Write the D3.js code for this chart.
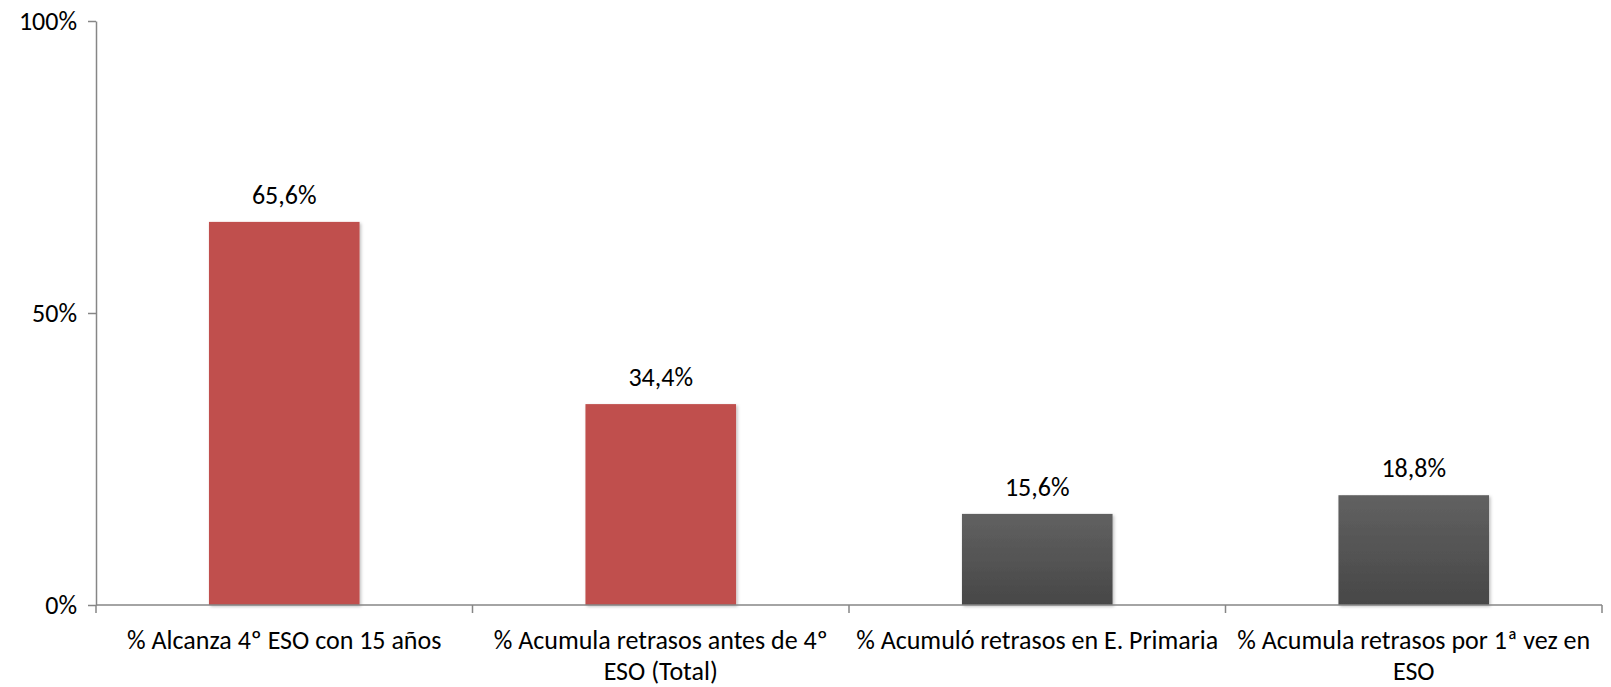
<!DOCTYPE html>
<html>
<head>
<meta charset="utf-8">
<script src="https://cdn.jsdelivr.net/npm/d3@7"></script>
<style>
  html, body { margin: 0; padding: 0; background: #fff; }
  svg { display: block; font-family: Carlito, Calibri, Lato, sans-serif; }
  svg text { font-family: Carlito, Calibri, Lato, sans-serif; font-size: 26px; fill: #000; }
</style>
</head>
<body>
<div id="chart"></div>
<script>
// Distribution of students by grade retention
const categories = [
  '% Alcanza 4º ESO con 15 años',
  '% Acumula retrasos antes de 4º ESO (Total)',
  '% Acumuló retrasos en E. Primaria',
  '% Acumula retrasos por 1ª vez en ESO'
];
const values = [65.6, 34.4, 15.6, 18.8];
const groups = ['red', 'red', 'gray', 'gray'];
const yTicks = [0, 50, 100];

const W = 1611, H = 687;
const margin = { top: 21, right: 9, bottom: 82, left: 96 };

const svg = d3.select('#chart').append('svg')
  .attr('width', W)
  .attr('height', H);

const defs = svg.append('defs');
const grad = defs.append('linearGradient')
  .attr('id', 'grayGrad')
  .attr('x1', 0).attr('y1', 0).attr('x2', 0).attr('y2', 1);
grad.append('stop').attr('offset', '0%').attr('stop-color', '#616161');
grad.append('stop').attr('offset', '100%').attr('stop-color', '#474747');

const shadow = defs.append('filter').attr('id', 'shadow')
  .attr('x', '-10%').attr('y', '-10%').attr('width', '130%').attr('height', '130%');
shadow.append('feDropShadow')
  .attr('dx', 1.5).attr('dy', 1.5).attr('stdDeviation', 1.5)
  .attr('flood-color', '#000').attr('flood-opacity', 0.25);

const x = d3.scaleBand()
  .domain(categories)
  .range([margin.left, W - margin.right])
  .paddingInner(0.6)
  .paddingOuter(0.3);

const y = d3.scaleLinear()
  .domain([0, 100])
  .range([H - margin.bottom, margin.top]);

// bars
svg.append('g').selectAll('rect')
  .data(categories).join('rect')
  .attr('x', d => x(d))
  .attr('y', (d, i) => y(values[i]))
  .attr('width', x.bandwidth())
  .attr('height', (d, i) => y(0) - y(values[i]))
  .attr('fill', (d, i) => groups[i] === 'red' ? '#C0504D' : 'url(#grayGrad)')
  .attr('filter', 'url(#shadow)');

// value labels
svg.append('g').selectAll('text')
  .data(categories).join('text')
  .attr('x', d => x(d) + x.bandwidth() / 2)
  .attr('y', (d, i) => y(values[i]) - 18)
  .attr('text-anchor', 'middle')
  .text((d, i) => d3.format('.1f')(values[i]).replace('.', ',') + '%');

// y axis
const yAxis = svg.append('g')
  .attr('transform', `translate(${margin.left},0)`)
  .call(d3.axisLeft(y).tickValues(yTicks).tickSize(8).tickSizeOuter(0).tickFormat(d => d + '%'));
yAxis.select('.domain').attr('stroke', '#868686').attr('stroke-width', 1.5);
yAxis.selectAll('.tick line').attr('stroke', '#868686').attr('stroke-width', 1.5);
yAxis.selectAll('.tick text').attr('x', -19);

// x axis baseline and category separators
const base = y(0);
const xStart = margin.left, xEnd = W - margin.right;
const xg = svg.append('g');
xg.append('line')
  .attr('x1', xStart).attr('x2', xEnd)
  .attr('y1', base).attr('y2', base)
  .attr('stroke', '#868686').attr('stroke-width', 1.5);
const bounds = d3.range(categories.length + 1).map(i => xStart + i * (xEnd - xStart) / categories.length);
xg.selectAll('line.sep')
  .data(bounds).join('line')
  .attr('class', 'sep')
  .attr('x1', d => d).attr('x2', d => d)
  .attr('y1', base).attr('y2', base + 8)
  .attr('stroke', '#868686').attr('stroke-width', 1.5);

// category labels, wrapped to the band width
const wrapW = 368;
const labels = svg.append('g').selectAll('text')
  .data(categories).join('text')
  .attr('x', d => x(d) + x.bandwidth() / 2)
  .attr('y', base + 44)
  .attr('text-anchor', 'middle');

labels.each(function(d) {
  const t = d3.select(this);
  const words = d.split(' ');
  let line = [];
  let tspan = t.append('tspan').attr('x', t.attr('x')).attr('dy', 0);
  words.forEach(w => {
    line.push(w);
    tspan.text(line.join(' '));
    if (tspan.node().getComputedTextLength() > wrapW && line.length > 1) {
      line.pop();
      tspan.text(line.join(' '));
      line = [w];
      tspan = t.append('tspan').attr('x', t.attr('x')).attr('dy', 31).text(w);
    }
  });
});
</script>
</body>
</html>
